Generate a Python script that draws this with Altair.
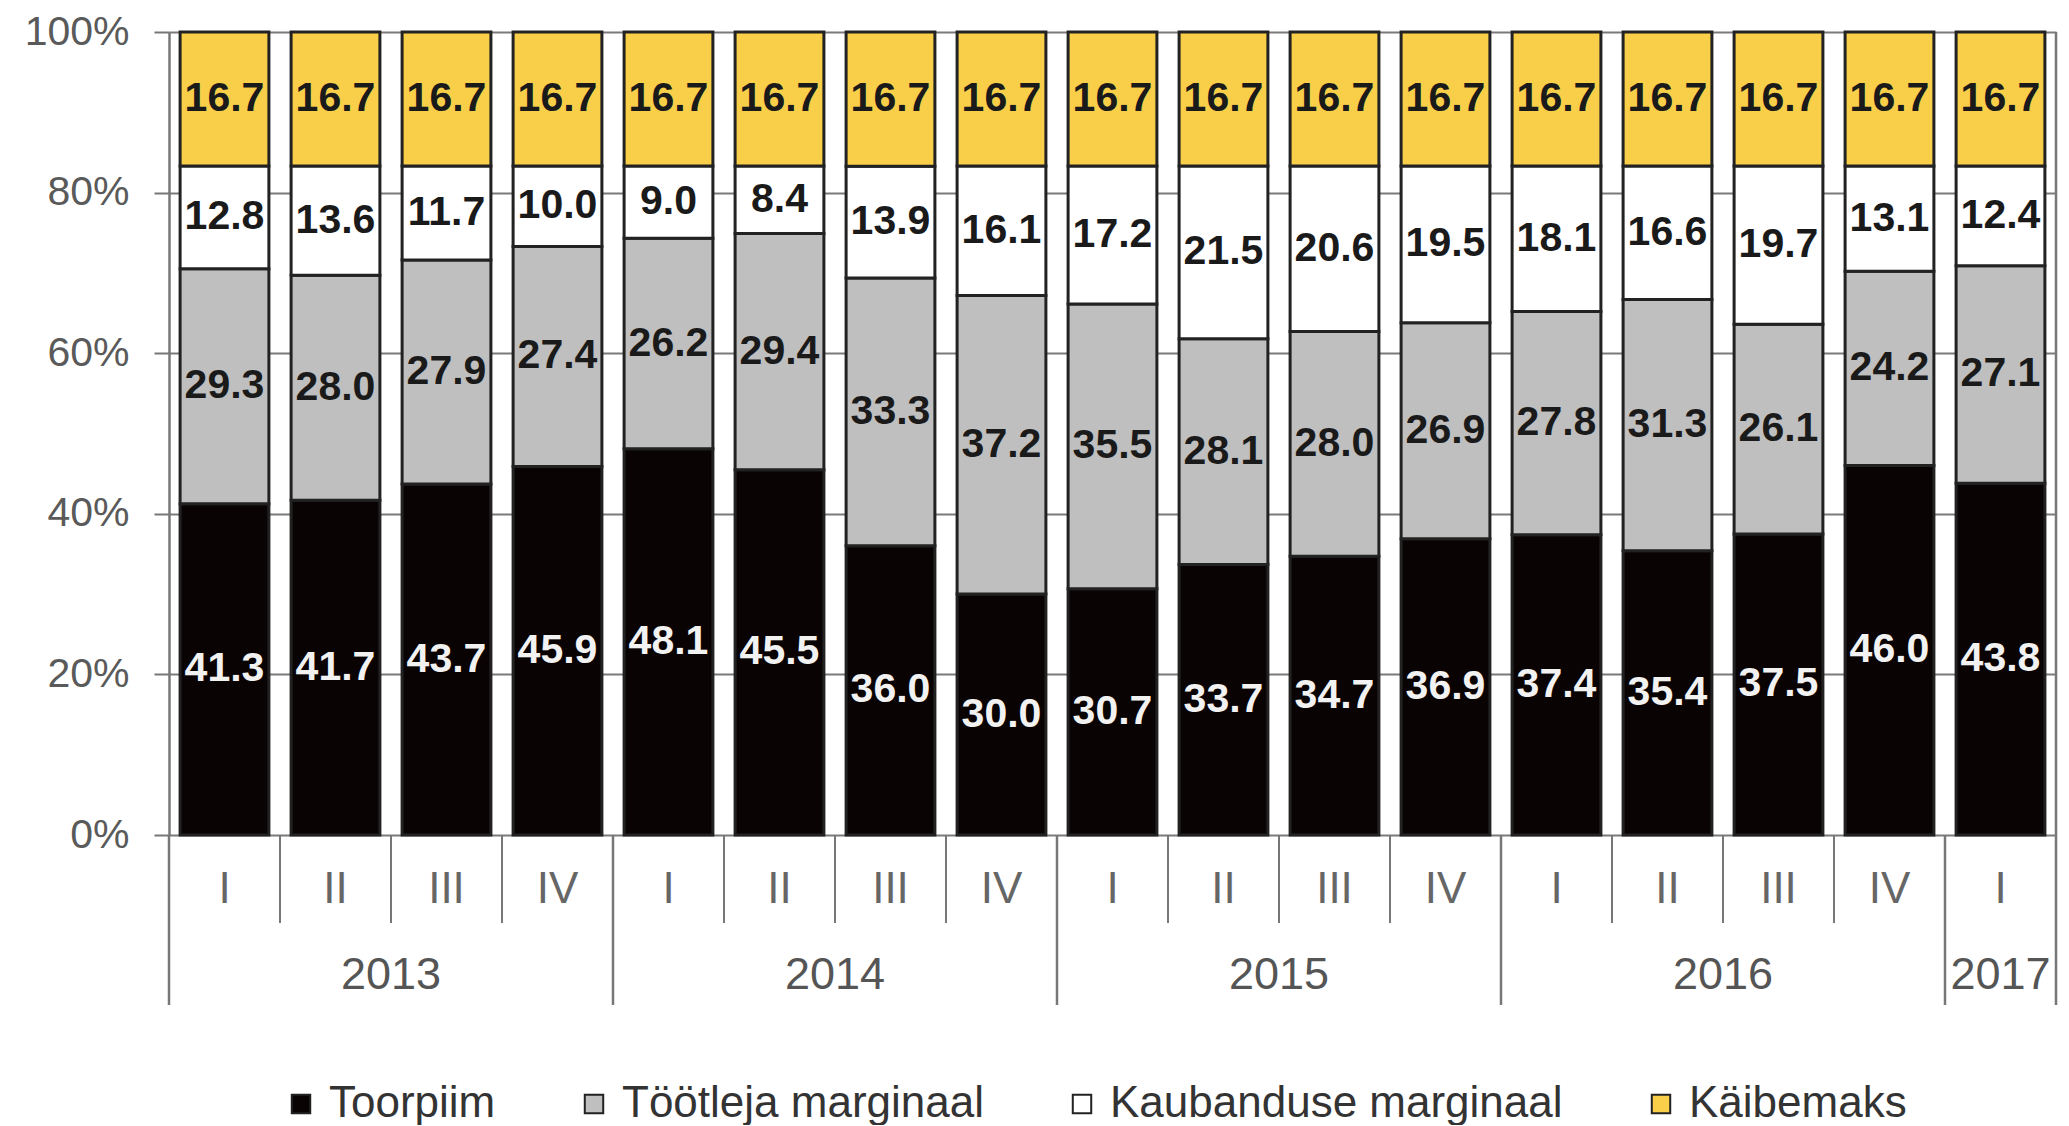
import altair as alt
import pandas as pd

quarters = ["I", "II", "III", "IV", "I", "II", "III", "IV", "I", "II", "III", "IV",
            "I", "II", "III", "IV", "I"]
year_labels = ["2013", "2014", "2015", "2016", "2017"]
year_counts = [4, 4, 4, 4, 1]

components = ["Toorpiim", "Töötleja marginaal", "Kaubanduse marginaal", "Käibemaks"]
toorpiim = [41.3, 41.7, 43.7, 45.9, 48.1, 45.5, 36.0, 30.0, 30.7, 33.7, 34.7, 36.9,
            37.4, 35.4, 37.5, 46.0, 43.8]
tootleja = [29.3, 28.0, 27.9, 27.4, 26.2, 29.4, 33.3, 37.2, 35.5, 28.1, 28.0, 26.9,
            27.8, 31.3, 26.1, 24.2, 27.1]
kaubandus = [12.8, 13.6, 11.7, 10.0, 9.0, 8.4, 13.9, 16.1, 17.2, 21.5, 20.6, 19.5,
             18.1, 16.6, 19.7, 13.1, 12.4]
kaibemaks = [16.7, 16.7, 16.7, 16.7, 16.7, 16.7, 16.7, 16.7, 16.7, 16.7, 16.7, 16.7,
             16.7, 16.7, 16.7, 16.7, 16.7]
colors = ["#0a0303", "#bfbfbf", "#ffffff", "#f9cf4a"]

series = [toorpiim, tootleja, kaubandus, kaibemaks]
rows = []
for i, q in enumerate(quarters):
    for k, (name, vals) in enumerate(zip(components, series)):
        rows.append({"idx": i, "q": q, "component": name, "order": k, "value": vals[i]})
df = pd.DataFrame(rows)

qdf = pd.DataFrame({"idx": list(range(len(quarters))), "q": quarters})
starts, s = [], 0
for c in year_counts:
    starts.append(s)
    s += c
ydf = pd.DataFrame({"year": year_labels, "start": starts,
                    "end": [a + c for a, c in zip(starts, year_counts)]})

W, H = 1887, 803
FONT = "Liberation Sans"
xscale = alt.Scale(domain=[0, len(quarters)], nice=False, zero=False)

base = alt.Chart(df).transform_stack(
    stack="value", groupby=["idx"], as_=["y0", "y1"], offset="normalize",
    sort=[alt.SortField("order", order="ascending")]
).transform_calculate(
    xl="datum.idx + 0.1", xr="datum.idx + 0.9", xm="datum.idx + 0.5",
    ym="(datum.y0 + datum.y1) / 2"
)

bars = base.mark_bar(stroke="#222222", strokeWidth=3).encode(
    x=alt.X("xl:Q", scale=xscale, axis=None),
    x2="xr:Q",
    y=alt.Y("y0:Q", scale=alt.Scale(domain=[0, 1], nice=False),
            axis=alt.Axis(values=[0, 0.2, 0.4, 0.6, 0.8, 1.0], format="%", title=None,
                          labelFont=FONT, labelFontSize=41, labelColor="#5a5a5a",
                          tickSize=15, tickColor="#777777", tickWidth=2,
                          domainColor="#777777", domainWidth=2.5,
                          grid=True, gridColor="#7a7a7a", gridWidth=2,
                          labelPadding=25)),
    y2="y1:Q",
    color=alt.Color("component:N",
                    scale=alt.Scale(domain=components, range=colors),
                    sort=components,
                    legend=alt.Legend(orient="none", legendX=110, legendY=1050,
                                      direction="horizontal", columns=4,
                                      columnPadding=76, title=None,
                                      symbolType="square", symbolSize=340,
                                      symbolStrokeColor="#222222", symbolStrokeWidth=2,
                                      labelFont=FONT, labelFontSize=44,
                                      labelColor="#333333", labelOffset=6,
                                      labelLimit=0, padding=0)),
)

labels = base.mark_text(font=FONT, fontSize=41, fontWeight="bold",
                        align="center", baseline="middle").encode(
    x=alt.X("xm:Q", scale=xscale),
    y=alt.Y("ym:Q"),
    text=alt.Text("value:Q", format=".1f"),
    color=alt.condition(alt.datum.component == "Toorpiim",
                        alt.value("#f2f2f2"), alt.value("#1a1a1a")),
)

qlabels = alt.Chart(qdf).transform_calculate(xm="datum.idx + 0.5").mark_text(
    font=FONT, fontSize=44, color="#666666", align="center", baseline="middle"
).encode(x=alt.X("xm:Q", scale=xscale), y=alt.value(H + 55), text="q:N")

qrules = alt.Chart(qdf).mark_rule(color="#777777", strokeWidth=2).encode(
    x=alt.X("idx:Q", scale=xscale), y=alt.value(H), y2=alt.value(H + 88))

yrules = alt.Chart(ydf).mark_rule(color="#777777", strokeWidth=2.5).encode(
    x=alt.X("start:Q", scale=xscale), y=alt.value(H), y2=alt.value(H + 170))

edge = alt.Chart(ydf).transform_aggregate(total="max(end)").mark_rule(
    color="#777777", strokeWidth=2.5).encode(
    x=alt.X("total:Q", scale=xscale), y=alt.value(0), y2=alt.value(H + 170))

ylabels = alt.Chart(ydf).transform_calculate(xm="(datum.start + datum.end) / 2").mark_text(
    font=FONT, fontSize=45, color="#555555", align="center", baseline="middle"
).encode(x=alt.X("xm:Q", scale=xscale), y=alt.value(H + 140), text="year:N")

chart = alt.layer(bars, labels, qlabels, qrules, yrules, edge, ylabels).properties(
    width=W, height=H,
    autosize=alt.AutoSizeParams(type="none"),
    padding={"left": 161, "top": 24, "right": 5, "bottom": 290},
).configure_view(stroke=None).configure(background="white")

chart.save("out.html", embed_options={"renderer": "svg", "actions": False})
